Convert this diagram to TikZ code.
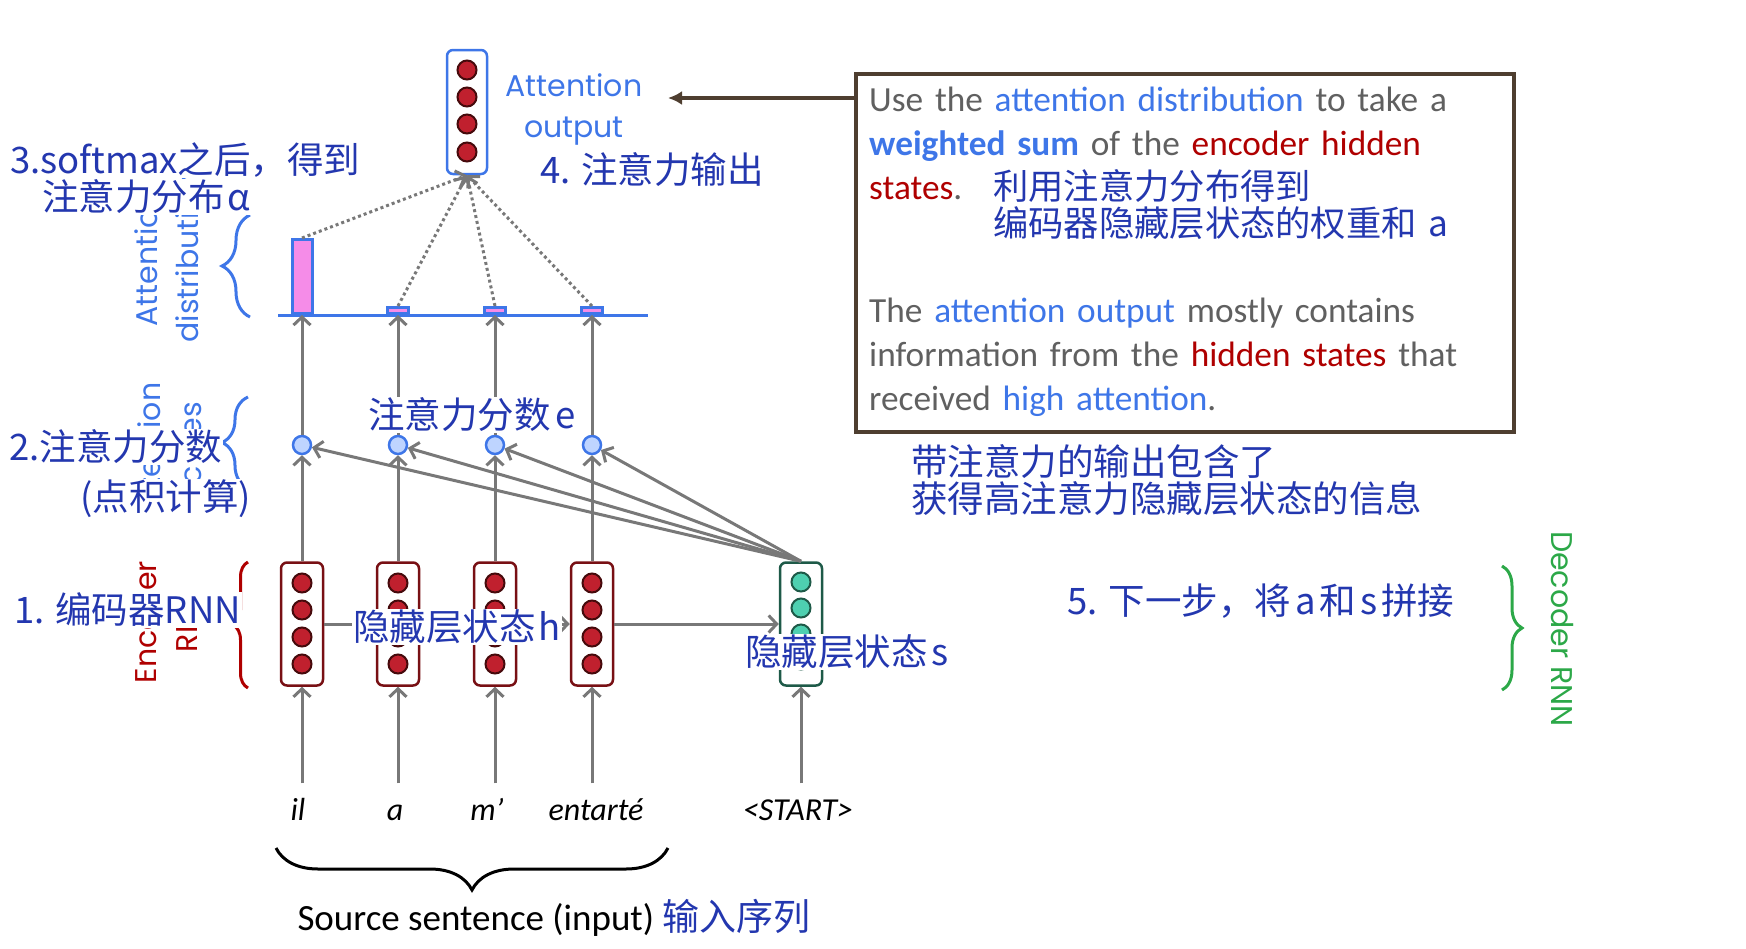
\documentclass[tikz,border=0pt]{standalone}
\usepackage{fontspec}
\setmainfont{Carlito}
\newfontfamily\cnfont{Noto Sans CJK SC}
\newfontfamily\labfont{Poppins}
\usetikzlibrary{positioning, calc, arrows.meta, decorations.pathreplacing}
\definecolor{cnblue}{RGB}{35,55,175}
\definecolor{attblue}{RGB}{62,118,232}
\definecolor{encred}{RGB}{120,16,20}
\definecolor{unitred}{RGB}{192,32,46}
\definecolor{unitdark}{RGB}{70,10,12}
\definecolor{txtred}{RGB}{175,0,0}
\definecolor{decgreen}{RGB}{30,90,72}
\definecolor{unitteal}{RGB}{78,208,176}
\definecolor{labgreen}{RGB}{44,168,72}
\definecolor{arrgray}{RGB}{120,120,120}
\definecolor{boxbrown}{RGB}{78,62,48}
\definecolor{txtgray}{RGB}{96,96,96}
\definecolor{scorefill}{RGB}{190,212,255}
\definecolor{barpink}{RGB}{245,140,232}

\begin{document}
\begin{tikzpicture}[
        x=1pt, y=-1pt,
        cn/.style={font=\cnfont\fontsize{36.5}{37}\selectfont, text=cnblue, fill=white, inner sep=1pt},
        geolbl/.style={font=\labfont\fontsize{30}{41}\selectfont, align=center, inner sep=0pt},
        rnnbox/.style={rectangle, rounded corners=6pt, line width=2.5pt, fill=white, minimum width=42, minimum height=123},
        unit/.style={circle, draw=unitdark, fill=unitred, line width=2pt, minimum size=19, inner sep=0pt},
        score/.style={circle, draw=attblue, fill=scorefill, line width=2.5pt, minimum size=18, inner sep=0pt},
        bar/.style={rectangle, draw=attblue, fill=barpink, line width=3pt, minimum width=21, inner sep=0pt, anchor=south},
        arrow/.style={-{Straight Barb[length=8pt, width=17pt]}, line width=3pt, draw=arrgray},
        dotarrow/.style={arrow, dash pattern=on 3pt off 3pt},
        wordlbl/.style={font=\itshape\fontsize{32}{38}\selectfont, text height=22, text depth=7, inner ysep=15},
        curly/.style={decorate, decoration={brace, amplitude=#1}, line width=3pt},
    ]
    \useasboundingbox (0,0) rectangle (1746,948);

    % ===== Encoder RNN, scores =====
    \foreach \x [count=\i] in {302,398,495,592} {
        \node[rnnbox, draw=encred] (h\i) at (\x,624) {};
        \foreach \y [count=\j] in {583,610,637,664}
            \node[unit] (h\i-\j) at (\x,\y) {};
        \node[score] (e\i) at (\x,445) {};
    }

    % ===== Decoder RNN =====
    \node[rnnbox, draw=decgreen] (s) at (801,624) {};
    \foreach \y [count=\j] in {582,608,634,660}
        \node[unit, draw=decgreen, fill=unitteal] (s-\j) at (801,\y) {};

    % ===== Attention distribution =====
    \draw[attblue, line width=3pt] (278,315) -- (648,315);
    \node[bar, minimum height=74, minimum width=20] (a1) at (302,315) {};
    \foreach \x [count=\i from 2] in {398,495,592}
        \node[bar, minimum height=6] (a\i) at (\x,315) {};

    % ===== Attention output =====
    \node[rnnbox, draw=attblue, minimum width=40, minimum height=124] (out) at (467,112) {};
    \foreach \y [count=\j] in {70,97,124,152}
        \node[unit] (out-\j) at (467,\y) {};
    \node[geolbl, text=attblue] (outlbl) at (574,109) {Attention\\output};
    \coordinate (outtip) at (668,98);

    % ===== Input words =====
    \foreach \x/\w [count=\i] in {298/il, 395/a, 487/m’, 596/entarté}
        \node[wordlbl] (w\i) at (\x,813) {\w};
    \node[wordlbl] (start) at (798,813) {<START>};

    % ===== Connectors =====
    \foreach \i in {1,...,4} {
        \draw[arrow] (h\i |- w\i.north) -- (h\i);
        \draw[arrow] (h\i) -- (e\i);
        \draw[arrow] (e\i) -- (a\i.south);
        \draw[arrow] (s.north) -- (e\i);
        \draw[dotarrow] (a\i.north) -- (out.south);
    }
    \draw[arrow] (h1) -- (h2);
    \draw[arrow] (h2) -- (h3);
    \draw[arrow] (h3) -- (h4);
    \draw[arrow] (h4) -- (s);
    \draw[arrow] (s |- start.north) -- (s);

    % ===== Note box =====
    \node[draw=boxbrown, line width=4pt, minimum width=658, minimum height=358,
          anchor=north west, inner sep=0pt] (note) at (854,72) {};
    \node[anchor=north west, inner sep=0pt, text width=640, align=left,
          font=\fontsize{35.3}{44}\selectfont, text=txtgray] (notetxt) at (869,87)
        {Use the \textcolor{attblue}{attention distribution} to take a\\
         \textcolor{attblue}{\bfseries weighted sum} of the \textcolor{txtred}{encoder hidden}\\
         \makebox[124pt][l]{\textcolor{txtred}{states}.}{\cnfont\color{cnblue}利用注意力分布得到}\\[-7pt]
         \hspace*{124pt}{\cnfont\color{cnblue}编码器隐藏层状态的权重和 a}\\[42pt]
         The \textcolor{attblue}{attention output} mostly contains\\
         information from the \textcolor{txtred}{hidden states} that\\
         received \textcolor{attblue}{high attention}.};
    \draw[-{Latex[length=14pt, width=14pt]}, boxbrown, line width=4pt] (note.west |- outtip) -- (outtip);

    % ===== Side labels =====
    \node[geolbl, text=attblue, rotate=90] (distlbl) at (167,258) {Attention\\distribution};
    \node[geolbl, text=attblue, rotate=90] (scorelbl) at (170,451) {Attention\\scores};
    \node[geolbl, text=txtred, rotate=90] (enclbl) at (166,622) {Encoder\\RNN};
    \node[geolbl, text=labgreen, rotate=-90] (declbl) at (1562,629) {Decoder RNN};

    \draw[curly=28, attblue] (250,317) -- (250,215);
    \draw[curly=26, attblue] (248,488) -- (248,397);
    \draw[curly=15, txtred] (248,688) -- (248,562);
    \draw[curly=20, labgreen] (1502,566) -- (1502,690);
    \draw[curly=42, black] (668,848) -- (276,848);

    % ===== Chinese notes =====
    \node[cn, anchor=west] (step3) at (9,160) {3.softmax之后，得到};
    \node[cn, anchor=west] (step3b) at (41,197) {注意力分布\hspace{3pt}α};
    \node[cn] (step4) at (652,170) {4. 注意力输出};
    \node[cn, anchor=west] (step2) at (8,447) {2.注意力分数};
    \node[cn, anchor=west] (step2b) at (79,499) {(点积计算)};
    \node[cn, anchor=west] (step1) at (13,610) {1. 编码器RNN};
    \node[cn] (escore) at (472,415) {注意力分数\hspace{5pt}e};
    \node[cn] (hstate) at (457,627) {隐藏层状态\hspace{3pt}h};
    \node[cn] (sstate) at (847,652) {隐藏层状态\hspace{4pt}s};
    \node[cn, anchor=west, align=left] (outnote) at (910,480)
        {带注意力的输出包含了\\获得高注意力隐藏层状态的信息};
    \node[cn] (step5) at (1261,601) {5. 下一步，将\hspace{4pt}a\hspace{4pt}和\hspace{4pt}s\hspace{4pt}拼接};

    \node[font=\fontsize{37}{42}\selectfont] (src) at (554,918)
        {Source sentence (input) {\cnfont\color{cnblue}输入序列}};

\end{tikzpicture}
\end{document}
